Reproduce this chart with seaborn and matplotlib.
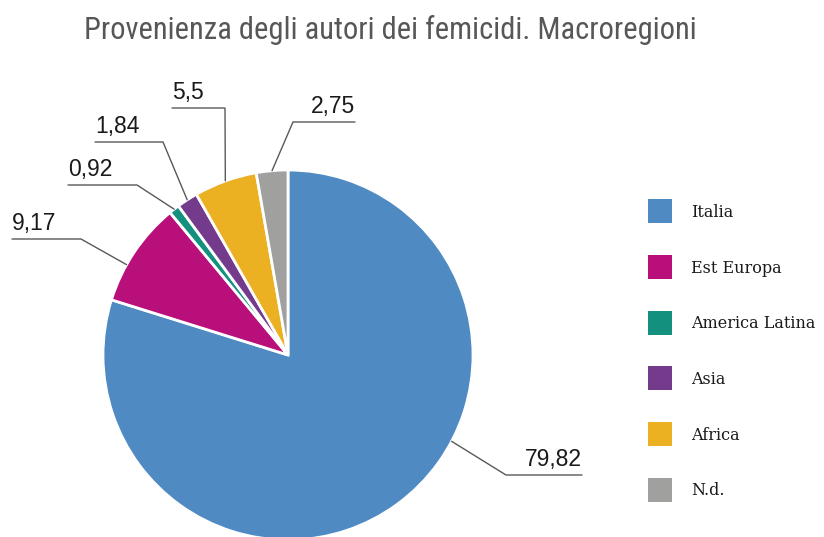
import numpy as np
import matplotlib.pyplot as plt
import seaborn as sns
from matplotlib import font_manager
from matplotlib.lines import Line2D

sns.set_theme(style='white')

# data
regions = ['Italia', 'Est Europa', 'America Latina', 'Asia', 'Africa', 'N.d.']
shares = [79.82, 9.17, 0.92, 1.84, 5.5, 2.75]
value_labels = ['79,82', '9,17', '0,92', '1,84', '5,5', '2,75']
colors = ['#4F8AC3', '#B90F7B', '#14907F', '#743A8B', '#ECB122', '#A0A09F']

# leader layout in pixels (y from top): where on the wedge the line starts,
# the elbow, and the end of the horizontal part where the label sits
leaders = [
    (0.59, (506, 475), (582, 475)),
    (0.64, (81, 239), (12, 239)),
    (0.5, (137, 185), (68, 185)),
    (0.5, (163, 142), (95, 142)),
    (0.5, (225, 108), (172, 108)),
    (0.5, (293, 122), (355, 122)),
]

W, H = 824, 537


def pick(cands):
    for f in cands:
        try:
            font_manager.findfont(f, fallback_to_default=False)
            return f
        except Exception:
            pass
    return 'DejaVu Sans'


title_font = pick(['Liberation Sans Narrow', 'Roboto Condensed', 'DejaVu Sans'])

fig = plt.figure(figsize=(W / 100, H / 100), dpi=100)
ax = fig.add_axes([0, 0, 1, 1])

cx, cy, r = 288, H - 355, 185
wedges, _ = ax.pie(shares, colors=colors, startangle=90, counterclock=False,
                   center=(cx, cy), radius=r,
                   wedgeprops=dict(edgecolor='white', linewidth=2))
ax.set_xlim(0, W)
ax.set_ylim(0, H)
ax.set_aspect('equal')
ax.axis('off')

for w, txt, (frac, elbow, end) in zip(wedges, value_labels, leaders):
    ang = np.deg2rad(w.theta1 + frac * (w.theta2 - w.theta1))
    x0, y0 = cx + r * np.cos(ang), cy + r * np.sin(ang)
    ex, ey = elbow[0], H - elbow[1]
    tx, ty = end[0], H - end[1]
    ax.plot([x0, ex, tx], [y0, ey, ty], color='#595959', lw=1.0,
            solid_joinstyle='miter')
    ha = 'right' if tx > ex else 'left'
    ax.text(tx, ty + 9, txt, ha=ha, va='baseline', fontsize=16.5,
            family='Liberation Sans', color='#1a1a1a')

handles = [Line2D([], [], marker='s', linestyle='', markersize=17,
                  markerfacecolor=c, markeredgewidth=0) for c in colors]
fig.legend(handles, regions, loc='upper left',
           bbox_to_anchor=(648.5 / W, 1 - 204 / H), frameon=False,
           borderpad=0, borderaxespad=0, handlelength=1.39,
           handletextpad=1.28, labelspacing=2.42,
           prop=dict(family='DejaVu Serif', size=11.5))
for t in fig.legends[0].get_texts():
    t.set_color('#1a1a1a')

fig.text(390 / W, 1 - 30 / H, 'Provenienza degli autori dei femicidi. Macroregioni',
         ha='center', va='center', fontsize=22, color='#575757',
         family=title_font, fontstretch='condensed')

fig.savefig('out.png', dpi=100)
